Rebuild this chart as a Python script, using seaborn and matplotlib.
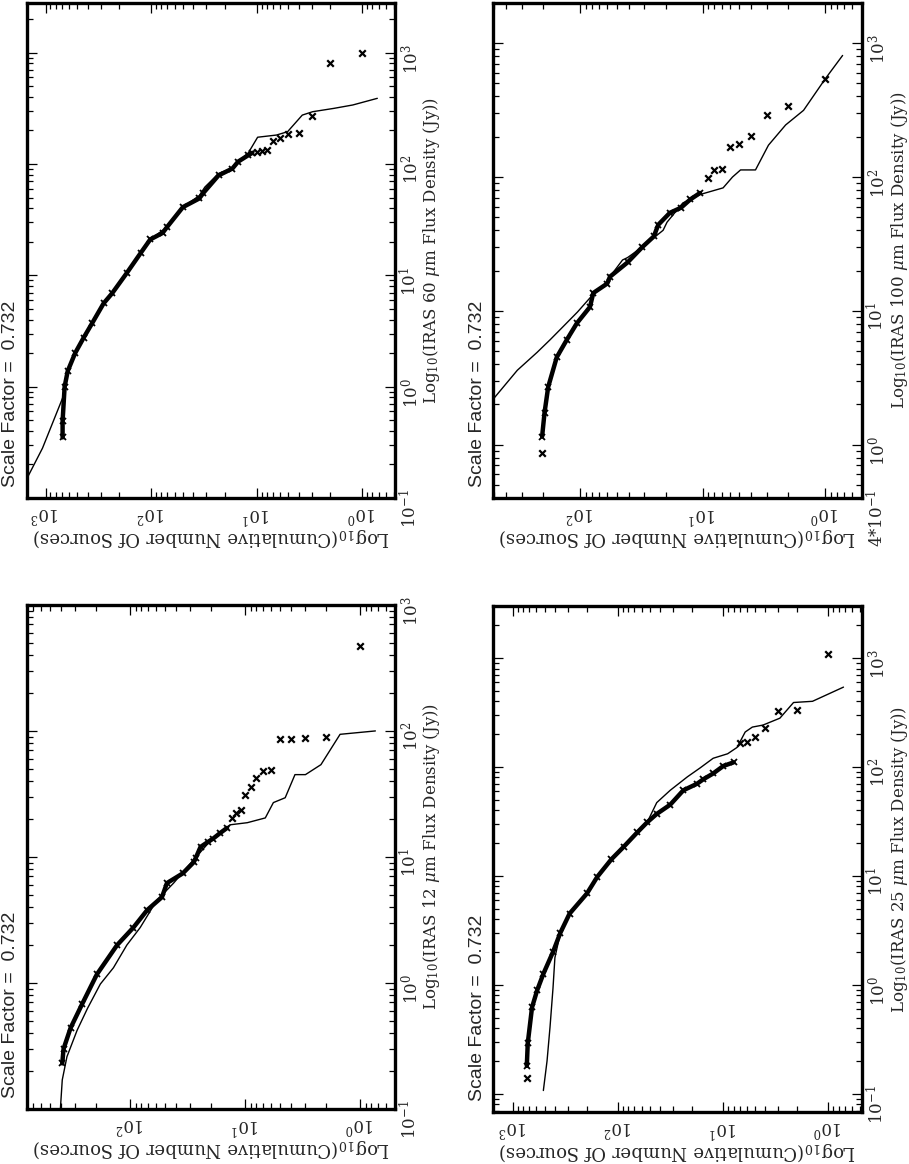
import numpy as np
import matplotlib
matplotlib.use("Agg")
import matplotlib.pyplot as plt
import seaborn as sns
from matplotlib.ticker import LogLocator, NullFormatter

# Contagens cumulativas N(>S) das fontes IRAS (pagina girada 90 graus)
scale_factor = 0.732

# --- IRAS 60 um ---
n60_dense = [690, 690, 660, 617, 525, 436, 363, 282, 234, 170, 126, 102, 78, 71, 50, 35, 32, 23, 17, 15, 12, 11]
s60_dense = [0.35, 0.49, 1.0, 1.38, 2.0, 2.75, 3.7, 5.6, 6.9, 10.5, 15.8, 21, 24, 27, 41, 49, 55, 79, 91, 105, 120, 126]
n60_pts = [10, 9, 8, 7, 6, 5, 4, 3, 2, 1]
s60_pts = [128, 131, 134, 162, 170, 185, 190, 270, 810, 1000]
n60_model = [1500, 1070, 690, 650, 600, 525, 436, 363, 282, 234, 170, 126, 102, 75, 50, 35, 31, 23, 17, 15, 12,
             9.8, 6.5, 5.1, 3.7, 2.95, 1.86, 1.23, 0.72]
s60_model = [0.15, 0.28, 0.79, 1.1, 1.45, 2.0, 2.75, 3.7, 5.6, 6.9, 10.5, 15.8, 21, 26, 41, 52, 62, 82, 92, 105, 126,
             174, 182, 195, 275, 295, 316, 339, 389]

# --- IRAS 12 um ---
n12_dense = [390, 380, 330, 262, 195, 130, 94, 71, 53, 48, 35, 28, 27, 24.5, 21, 19, 16.5, 14.4]
s12_dense = [0.23, 0.30, 0.44, 0.68, 1.17, 2.0, 2.75, 3.8, 4.8, 6.2, 7.4, 9.1, 9.8, 12, 13.2, 14, 15.5, 17]
n12_pts = [13, 12, 11, 10, 9, 8, 7, 6, 5, 4, 3, 2, 1]
s12_pts = [20.5, 22.4, 23.5, 31, 36, 42, 48, 49, 86.5, 87, 88, 89, 470]
n12_model = [405, 390, 355, 290, 235, 182, 140, 107, 82, 59, 42, 32, 20, 16.5, 13.5, 9.6, 6.7, 5.7, 4.5, 3.7, 3.0,
             2.2, 1.5, 0.74]
s12_model = [0.1, 0.17, 0.26, 0.42, 0.63, 0.98, 1.32, 2.0, 2.75, 4.5, 6.2, 8.3, 13.5, 15.5, 18, 18.7, 20.4, 27, 29.5,
             45, 45, 54, 94, 100]

# --- IRAS 100 um ---
n100_dense = [204, 195, 182, 155, 128, 106, 83, 78, 60, 57, 41, 31, 25, 23, 18.5, 15, 12.6, 10.5]
s100_dense = [1.15, 1.73, 2.7, 4.5, 6.1, 8.1, 10.7, 13.6, 16, 18, 23, 30, 36, 44, 54, 59, 68, 76]
n100_pts = [204, 9, 8, 7, 6, 5, 4, 3, 2, 1]
s100_pts = [0.87, 98, 113, 114, 167, 177, 204, 290, 340, 540]
n100_model = [520, 325, 224, 175, 138, 105, 83, 60, 57, 45, 41, 31, 21, 19.5, 14.5, 10.5, 6.8, 5.7, 4.9, 3.7, 2.9,
              2.1, 1.5, 1.0, 0.72]
s100_model = [2.15, 3.6, 4.9, 6.1, 7.6, 9.8, 12.5, 16.5, 18, 24, 25, 30, 40, 46, 64, 74, 83, 100, 113, 113, 173,
              245, 315, 540, 810]

# --- IRAS 25 um ---
n25_dense = [740, 725, 660, 590, 515, 417, 355, 290, 198, 158, 116, 89, 66, 53, 43, 32, 24, 17.8, 15.5, 12.5, 10, 8]
s25_dense = [0.18, 0.29, 0.62, 0.89, 1.26, 2.0, 3.0, 4.5, 6.9, 9.8, 14.2, 18.4, 25, 31, 37, 45, 61, 70, 77, 87, 102, 110]
n25_pts = [740, 7, 6, 5, 4, 3, 2, 1]
s25_pts = [0.14, 166, 169, 187, 228, 325, 330, 1090]
n25_model = [515, 475, 445, 417, 400, 355, 290, 198, 158, 116, 89, 66, 53, 43, 32, 22, 16.6, 12.5, 9.1, 7.4, 6.2,
             5.3, 4.2, 2.9, 2.15, 1.42, 0.72]
s25_model = [0.107, 0.20, 0.41, 0.93, 1.77, 3.0, 4.5, 6.9, 9.8, 14.2, 18.4, 25, 31, 47, 61, 81, 98, 120, 132, 151,
             209, 232, 242, 280, 390, 400, 540]

decadas = [0.1, 1, 10, 100, 1000]
rotulos = [r'$10^{-1}$', r'$10^{0}$', r'$10^{1}$', r'$10^{2}$', r'$10^{3}$']
decadas100 = [0.4, 1, 10, 100, 1000]
rotulos100 = [r'$4{*}10^{-1}$', r'$10^{0}$', r'$10^{1}$', r'$10^{2}$', r'$10^{3}$']
contagens = [1, 10, 100, 1000]
rotulos_n = [r'$10^{0}$', r'$10^{1}$', r'$10^{2}$', r'$10^{3}$']

sns.set_theme(style="ticks")
plt.rcParams['font.family'] = ['DejaVu Serif']
plt.rcParams['mathtext.fontset'] = 'dejavuserif'


def painel(ax, banda, n_dense, s_dense, n_pts, s_pts, n_mod, s_mod, xlim, ylim, s_ticks, s_labels):
    ax.set_xscale('log')
    ax.set_yscale('log')
    sns.lineplot(x=n_mod, y=s_mod, sort=False, estimator=None, color='black', lw=1.0, ax=ax)
    sns.lineplot(x=n_dense, y=s_dense, sort=False, estimator=None, color='black', lw=3.2,
                 marker='x', markersize=5, markeredgewidth=1.3, markeredgecolor='black', ax=ax)
    sns.scatterplot(x=n_pts, y=s_pts, marker='x', color='black', s=22, linewidth=1.6, ax=ax)

    # eixo vertical = fluxo, horizontal = contagem (invertido)
    ax.set_yticks(s_ticks, labels=s_labels)
    ax.set_xticks(contagens, labels=rotulos_n)
    ax.yaxis.set_minor_locator(LogLocator(base=10, subs=np.arange(2, 10), numticks=20))
    ax.xaxis.set_minor_locator(LogLocator(base=10, subs=np.arange(2, 10), numticks=20))
    ax.yaxis.set_minor_formatter(NullFormatter())
    ax.xaxis.set_minor_formatter(NullFormatter())
    ax.set_xlim(xlim)
    ax.set_ylim(ylim)

    ax.tick_params(which='both', direction='in', top=True, bottom=True, left=True, right=True,
                   width=0.9, color='black')
    ax.tick_params(which='major', length=7)
    ax.tick_params(which='minor', length=4)
    ax.tick_params(axis='y', labelleft=False, labelright=True, labelrotation=90, pad=3, labelsize=12)
    ax.tick_params(axis='x', labelbottom=True, labelrotation=180, pad=4, labelsize=12)
    for sp in ax.spines.values():
        sp.set_linewidth(2.4)
        sp.set_color('black')
    ax.set_xlabel('')
    ax.set_ylabel('')

    ax.annotate(r'Log$_{10}$(Cumulative Number Of Sources)', xy=(0.5, 0), xycoords='axes fraction',
                xytext=(0, -40), textcoords='offset pixels', rotation=180, ha='center', va='center',
                fontsize=13)
    ax.annotate(r'Log$_{10}$(IRAS ' + banda + r' $\mu$m Flux Density (Jy))', xy=(1, 0.5),
                xycoords='axes fraction', xytext=(37, 0), textcoords='offset pixels', rotation=90,
                ha='center', va='center', fontsize=12)
    ax.annotate(f'Scale Factor =  {scale_factor}', xy=(0, 0), xycoords='axes fraction',
                xytext=(-16, 11), textcoords='offset pixels', rotation=90, ha='center', va='bottom',
                family='Liberation Sans', fontsize=14)


fig = plt.figure(figsize=(9.09, 11.64), dpi=100)
ax60 = fig.add_axes([0.0297, 0.5722, 0.4048, 0.4253])
ax12 = fig.add_axes([0.0297, 0.0473, 0.4048, 0.4330])
ax100 = fig.add_axes([0.5424, 0.5722, 0.4059, 0.4253])
ax25 = fig.add_axes([0.5424, 0.0447, 0.4059, 0.4347])

painel(ax60, '60', n60_dense, s60_dense, n60_pts, s60_pts, n60_model, s60_model,
       (1500, 0.49), (0.1, 2800), decadas, rotulos)
painel(ax12, '12', n12_dense, s12_dense, n12_pts, s12_pts, n12_model, s12_model,
       (790, 0.50), (0.1, 1000), decadas, rotulos)
painel(ax100, '100', n100_dense, s100_dense, n100_pts, s100_pts, n100_model, s100_model,
       (513, 0.50), (0.4, 2000), decadas100, rotulos100)
painel(ax25, '25', n25_dense, s25_dense, n25_pts, s25_pts, n25_model, s25_model,
       (1550, 0.48), (0.068, 3000), decadas, rotulos)

fig.savefig('out.png', dpi=100)
